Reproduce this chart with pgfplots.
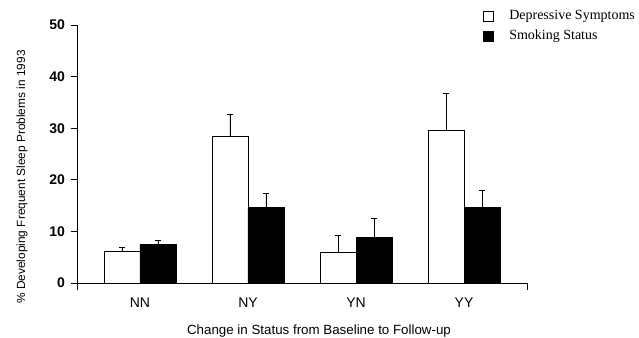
\documentclass[border=0pt]{standalone}
\usepackage{pgfplots}
\pgfplotsset{compat=1.18}
\usepackage{fontspec}
\setmainfont{Liberation Sans}
\newfontfamily\legfont{Liberation Serif}
\begin{document}
\begin{tikzpicture}[x=0.75pt,y=0.75pt]
\useasboundingbox (0,0) rectangle (639,338);
\begin{axis}[at={(57.75pt,41.25pt)}, anchor=south west,
  width=337.5pt, height=193.5pt, scale only axis,
  xmin=-0.583, xmax=3.583, ymin=0, ymax=50,
  axis x line*=bottom, axis y line*=left,
  axis line style={-, line width=0.6pt},
  ybar=0pt, bar width=27pt,
  xtick={0,1,2,3}, xticklabels={NN,NY,YN,YY},
  x tick style={draw=none},
  ytick={0,10,...,50},
  y tick style={black, line width=0.6pt},
  tick align=outside, major tick length=4.5pt,
  /pgf/number format/assume math mode=true,
  yticklabel style={font=\fontsize{10.5}{11}\selectfont\bfseries, xshift=-1pt},
  xticklabel style={font=\fontsize{10.5}{11}\selectfont, yshift=-3pt},
  clip=false,
]
\addplot[fill=white, draw=black, line width=0.6pt,
  error bars/.cd, y dir=plus, y explicit,
  error bar style={black, line width=0.6pt},
  error mark options={rotate=90, mark size=2.5pt, line width=0.6pt}]
  coordinates {(0,6.1) +- (0,0.8) (1,28.5) +- (0,4.2) (2,5.9) +- (0,3.3) (3,29.5) +- (0,7.3)};
\addplot[fill=black, draw=black, line width=0.6pt,
  error bars/.cd, y dir=plus, y explicit,
  error bar style={black, line width=0.6pt},
  error mark options={rotate=90, mark size=2.5pt, line width=0.6pt}]
  coordinates {(0,7.4) +- (0,0.8) (1,14.6) +- (0,2.8) (2,8.8) +- (0,3.7) (3,14.6) +- (0,3.3)};
\draw[line width=0.6pt] (rel axis cs:0,0) -- ++(0pt,-5pt);
\draw[line width=0.6pt] (rel axis cs:1,0) -- ++(0pt,-5pt);
\end{axis}
\node[rotate=90, font=\fontsize{8.9}{10}\selectfont] at (22,161) {\% Developing Frequent Sleep Problems in 1993};
\node[font=\fontsize{10}{11}\selectfont] at (319,7) {Change in Status from Baseline to Follow-up};
\draw[line width=0.6pt, fill=white] (483,317) rectangle (493,327);
\draw[line width=0.6pt, fill=black] (483,297) rectangle (493,307);
\node[anchor=west, font=\legfont\fontsize{10.5}{11}\selectfont, inner sep=0pt] at (509,322) {Depressive Symptoms};
\node[anchor=west, font=\legfont\fontsize{10.5}{11}\selectfont, inner sep=0pt] at (509,302) {Smoking Status};
\end{tikzpicture}
\end{document}
